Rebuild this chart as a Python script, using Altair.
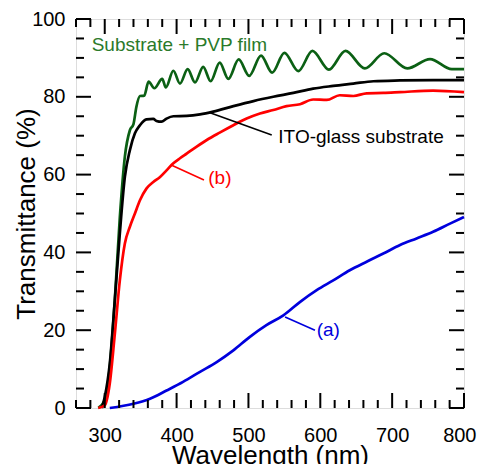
import altair as alt
import pandas as pd

W, H = 388, 389
FONT = "Liberation Sans"

# ---- data ----
green_x = [291, 300, 307, 314, 321, 328, 335, 340, 344, 349, 355, 361, 369, 380, 385, 395.5, 404.7,
           415.4, 425.6, 437, 447.4, 460, 472, 486.4, 501, 517.5, 533, 550, 569.4, 589, 612, 635,
           662, 689, 721, 752.7, 783, 800]
green_y = [0, 2, 10.5, 27.7, 49, 64.6, 71.4, 73, 77.4, 80.2, 80.3, 83.9, 82.2, 84.6, 82.4, 86.7, 83.4,
           87.1, 83.7, 87.7, 84, 88.8, 84.6, 89.6, 85.4, 90.6, 86.2, 91.3, 86.6, 91.8, 87, 91.8,
           87.3, 91.2, 87.3, 89.7, 87.1, 87.1]

black_x = [296, 300, 307, 314, 321, 328, 335, 342, 349, 358, 367.6, 372, 379, 386, 395.5, 414,
           432.6, 451, 479, 507, 534.6, 562.5, 590, 618, 646, 674, 711, 757, 800]
black_y = [0, 2.8, 11.4, 27.7, 44.9, 59.4, 66.3, 70.6, 72.7, 74.2, 74.3, 73.8, 73.6, 74.4, 75, 75.1,
           75.5, 76.2, 77.6, 78.9, 80, 81, 82.1, 82.8, 83.4, 84, 84.2, 84.3, 84.3]

red_x = [291, 300, 307, 314, 321, 328, 335, 342, 349, 358, 367.6, 377, 386, 395.5, 404.7, 414, 428,
         442, 460, 479, 497.5, 516, 534.6, 553, 571.8, 590, 609, 627, 646, 664.5, 687.7, 711, 757, 800]
red_y = [0, 0.7, 6.3, 19, 32.8, 42.3, 46.6, 50, 53.4, 56.4, 58.1, 59.4, 61.1, 62.9, 64.2, 65.4, 67.2,
         68.9, 70.8, 72.7, 74.4, 75.7, 76.6, 77.6, 78.1, 79.3, 79.2, 80.4, 80.2, 80.9, 81, 81.2, 81.6, 81.2]

blue_x = [307, 340, 363, 386, 409, 432.6, 455.8, 479, 502, 525, 548.6, 572, 595, 618, 641, 664.5,
          687.7, 711, 734, 757, 780.5, 800]
blue_y = [0, 1.1, 2.4, 4.5, 6.7, 9.3, 11.8, 14.8, 18.3, 21.3, 23.8, 27.3, 30.3, 32.8, 35.4, 37.6,
          39.7, 41.9, 43.6, 45.3, 47.4, 49.1]

series_names = ["Substrate + PVP film", "ITO-glass substrate", "(b)", "(a)"]
series_colors = ["#0b6014", "#000000", "#ff0000", "#0000dd"]

# annotations
label_text = ["Substrate + PVP film", "ITO-glass substrate", "(b)", "(a)"]
label_x = [281.8, 541.6, 444.1, 595]
label_y = [91.9, 68.1, 57.5, 18.5]
label_color = ["#2a7a2a", "#000000", "#ff0000", "#0000dd"]

lead_x = [446.5, 393.2, 551]
lead_y = [75.9, 62.4, 23.4]
lead_x2 = [532.4, 438.1, 592.6]
lead_y2 = [70.2, 58.6, 20]
lead_color = ["#000000", "#ff0000", "#0000dd"]

x_major = [300, 400, 500, 600, 700, 800]
x_minor = [260, 280, 320, 340, 360, 380, 420, 440, 460, 480, 520, 540, 560, 580, 620, 640,
           660, 680, 720, 740, 760, 780]
y_major = [0, 20, 40, 60, 80, 100]
y_minor = [5, 10, 15, 25, 30, 35, 45, 50, 55, 65, 70, 75, 85, 90, 95]

# ---- build tables ----
rows = []
for name, xs, ys in zip(series_names, [green_x, black_x, red_x, blue_x],
                        [green_y, black_y, red_y, blue_y]):
    for i, (a, b) in enumerate(zip(xs, ys)):
        rows.append({"series": name, "x": a, "y": b, "o": i})
curves = pd.DataFrame(rows)

xscale = alt.Scale(domain=[260, 800], nice=False, zero=False)
yscale = alt.Scale(domain=[0, 100], nice=False, zero=False)

x_axis = alt.Axis(values=x_major, ticks=False, tickSize=0, domain=False, grid=False,
                  labelFontSize=20, labelFont=FONT, labelColor="#000", labelPadding=17,
                  labelFlush=True, labelFlushOffset=12, labelOverlap=False,
                  title="Wavelength (nm)", titleFont=FONT, titleFontSize=26, titleFontWeight="normal",
                  titleColor="#000", titleBaseline="alphabetic", titleY=55)
y_axis = alt.Axis(values=y_major, ticks=False, tickSize=0, domain=False, grid=False,
                  labelFontSize=20, labelFont=FONT, labelColor="#000", labelPadding=11,
                  labelFlush=False, labelOverlap=False,
                  title="Transmittance (%)", titleFont=FONT, titleFontSize=26, titleFontWeight="normal",
                  titleColor="#000", titleBaseline="alphabetic", titleX=-42, titleAngle=-90)


def X(f):
    return alt.X(f, type="quantitative", scale=xscale, axis=x_axis)


def Y(f):
    return alt.Y(f, type="quantitative", scale=yscale, axis=y_axis)


lines = alt.Chart(curves).mark_line(strokeWidth=2.7, interpolate="monotone").encode(
    x=X("x"), y=Y("y"),
    color=alt.Color("series:N", scale=alt.Scale(domain=series_names, range=series_colors), legend=None),
    order="o:Q", detail="series:N",
)

leads = alt.Chart(pd.DataFrame({"x": lead_x, "y": lead_y, "x2": lead_x2, "y2": lead_y2,
                                "c": lead_color})).mark_rule(strokeWidth=1.6).encode(
    x=X("x"), y=Y("y"), x2="x2", y2="y2", color=alt.Color("c:N", scale=None))

texts = alt.Chart(pd.DataFrame({"t": label_text, "x": label_x, "y": label_y, "c": label_color})).mark_text(
    align="left", baseline="alphabetic", font=FONT, fontSize=19).encode(
    x=X("x"), y=Y("y"), text="t:N", color=alt.Color("c:N", scale=None))

xmaj = pd.DataFrame({"v": x_major})
xmin = pd.DataFrame({"v": x_minor})
ymaj = pd.DataFrame({"v": y_major})
ymin = pd.DataFrame({"v": y_minor})

tick_layers = []
for df, L in [(xmaj, 15), (xmin, 8)]:
    tick_layers.append(alt.Chart(df).mark_rule(color="black", strokeWidth=2).encode(
        x=X("v"), y=alt.value(H), y2=alt.value(H - L)))
    tick_layers.append(alt.Chart(df).mark_rule(color="black", strokeWidth=2).encode(
        x=X("v"), y=alt.value(0), y2=alt.value(L)))
for df, L in [(ymaj, 15), (ymin, 8)]:
    tick_layers.append(alt.Chart(df).mark_rule(color="black", strokeWidth=2).encode(
        y=Y("v"), x=alt.value(0), x2=alt.value(L)))
    tick_layers.append(alt.Chart(df).mark_rule(color="black", strokeWidth=2).encode(
        y=Y("v"), x=alt.value(W), x2=alt.value(W - L)))

chart = alt.layer(lines, *tick_layers, leads, texts).properties(
    width=W, height=H,
    autosize=alt.AutoSizeParams(type="none"),
    padding={"left": 68, "top": 11, "right": 13, "bottom": 56},
).configure_view(stroke="black", strokeWidth=2.2).configure(background="white")

chart.save("out.html", embed_options={"renderer": "svg", "actions": False})
